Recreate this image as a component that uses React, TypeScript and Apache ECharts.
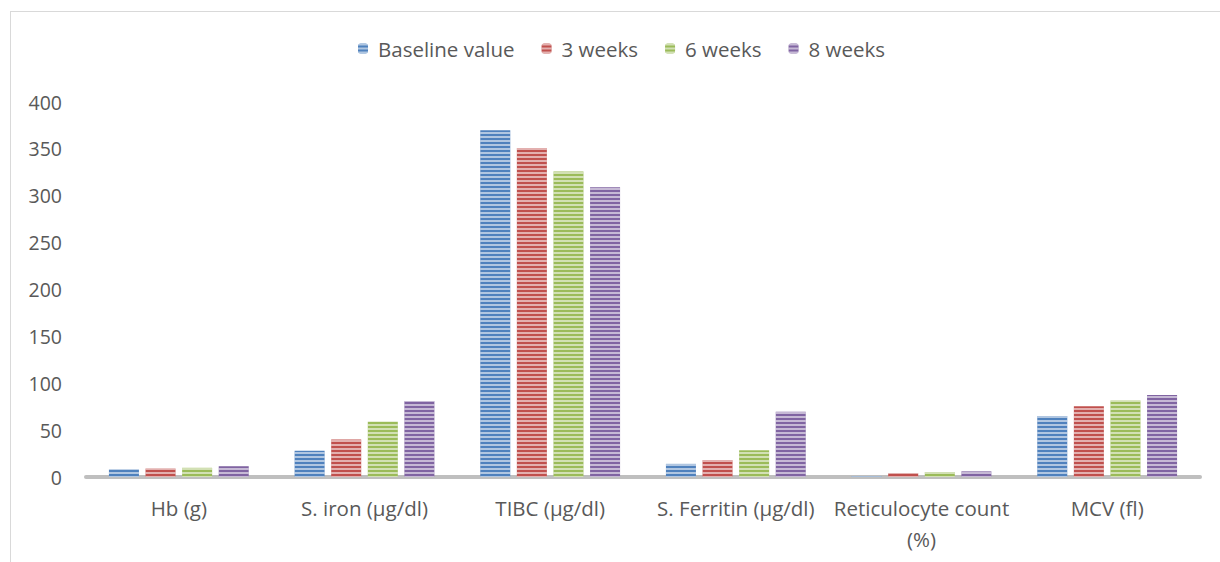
import React, { useEffect, useRef } from "react";
import * as echarts from "echarts";

const categories = [
  "Hb (g)",
  "S. iron (µg/dl)",
  "TIBC (µg/dl)",
  "S. Ferritin (µg/dl)",
  "Reticulocyte count\n(%)",
  "MCV (fl)",
];
const seriesNames = ["Baseline value", "3 weeks", "6 weeks", "8 weeks"];
const baseline = [8.0, 28, 370, 14, 0.8, 65];
const week3 = [9.0, 40, 351, 18, 4.0, 75.5];
const week6 = [9.8, 59, 326, 28.5, 5.3, 81.5];
const week8 = [11.5, 81, 309, 69.5, 6.0, 87.5];
const colors = ["#4f81bd", "#c0504d", "#9bbb59", "#8064a2"];

export default function App() {
  const ref = useRef<HTMLDivElement>(null);
  useEffect(() => {
    if (!ref.current) return;
    const chart = echarts.init(ref.current, undefined, { renderer: "svg" });
    const values = [baseline, week3, week6, week8];
    const font = "'Open Sans', sans-serif";
    chart.setOption({
      animation: false,
      textStyle: { fontFamily: font },
      legend: {
        top: 33,
        left: 353,
        itemWidth: 10,
        itemHeight: 10,
        itemGap: 27,
        textStyle: { fontSize: 20.5, color: "#595959", fontFamily: font, padding: [0, 0, 0, 5] },
        data: seriesNames,
      },
      grid: { left: 86, right: 20, top: 102, bottom: 85, containLabel: false },
      xAxis: {
        type: "category",
        data: categories,
        axisLine: { lineStyle: { color: "#bfbfbf", width: 4 } },
        axisTick: { show: false },
        axisLabel: {
          color: "#595959",
          fontSize: 20.5,
          margin: 15,
          fontFamily: font,
          lineHeight: 31,
          interval: 0,
        },
      },
      yAxis: {
        type: "value",
        min: 0,
        max: 400,
        interval: 50,
        splitLine: { show: false },
        axisLine: { show: false },
        axisTick: { show: false },
        axisLabel: { color: "#595959", fontSize: 19.5, margin: 24, fontFamily: font },
      },
      graphic: [
        {
          type: "line",
          shape: { x1: 10.5, y1: 11, x2: 10.5, y2: 562 },
          style: { stroke: "#d9d9d9", lineWidth: 1 },
        },
        {
          type: "line",
          shape: { x1: 10, y1: 11.5, x2: 1220, y2: 11.5 },
          style: { stroke: "#d9d9d9", lineWidth: 1 },
        },
      ],
      series: seriesNames.map((name, i) => ({
        name,
        type: "bar",
        data: values[i],
        barWidth: 30,
        barGap: "22%",
        itemStyle: {
          color: colors[i],
          decal: {
            symbol: "rect",
            symbolSize: 1,
            dashArrayX: [1, 0],
            dashArrayY: [2, 2],
            rotation: 0,
            color: "rgba(255,255,255,0.55)",
          },
        },
      })),
    });
    return () => chart.dispose();
  }, []);
  return (
    <div
      ref={ref}
      style={{ position: "absolute", left: 0, top: 0, width: 1220, height: 562 }}
    />
  );
}
